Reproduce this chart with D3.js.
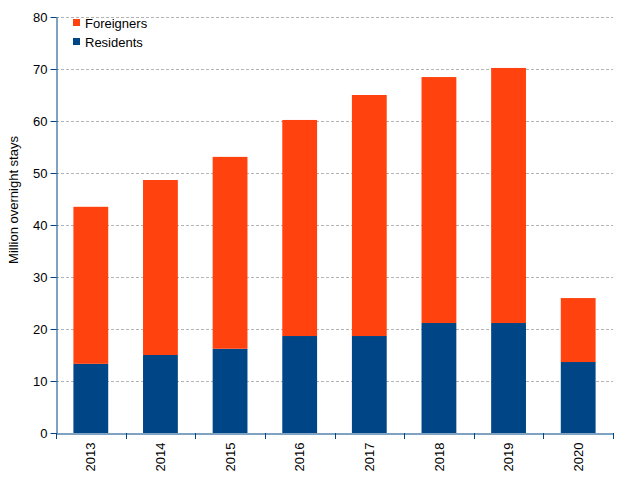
<!DOCTYPE html>
<html><head><meta charset="utf-8">
<script src="https://cdn.jsdelivr.net/npm/d3@7"></script>
<style>body{margin:0;background:#fff}svg{display:block;font-family:"Liberation Sans",Arial,sans-serif}</style>
</head><body><svg id="c" width="625" height="480"></svg>
<script>
const years = ["2013","2014","2015","2016","2017","2018","2019","2020"];
const residents = [13.3, 15.0, 16.2, 18.65, 18.65, 21.15, 21.15, 13.65];
const foreigners = [30.2, 33.65, 36.9, 41.55, 46.35, 47.3, 49.05, 12.3];
const yTicks = [0,10,20,30,40,50,60,70,80];
const seriesNames = ["Residents","Foreigners"];
const colors = {Residents:"#004586", Foreigners:"#ff420e"};

const svg = d3.select("#c");
const x = d3.scaleBand().domain(years).range([56,613]).paddingInner(0.5).paddingOuter(0.25);
const y = d3.scaleLinear().domain([0,80]).range([433,17]);

// grid
svg.append("g").selectAll("line").data(yTicks.filter(d=>d>0)).join("line")
  .attr("x1",56).attr("x2",613).attr("y1",d=>y(d)+0.5).attr("y2",d=>y(d)+0.5)
  .attr("stroke","#b3b3b3").attr("stroke-width",1).attr("stroke-dasharray","3,2");

const rows = years.map((yr,i)=>({year:yr, Residents:residents[i], Foreigners:foreigners[i]}));
const stack = d3.stack().keys(seriesNames)(rows);
svg.append("g").selectAll("g").data(stack).join("g").attr("fill",d=>colors[d.key])
  .selectAll("rect").data(d=>d).join("rect")
  .attr("x",d=>x(d.data.year)).attr("width",x.bandwidth())
  .attr("y",d=>y(d[1])).attr("height",d=>y(d[0])-y(d[1]));

// y axis
const ya = svg.append("g").attr("transform","translate(56.5,0)")
  .call(d3.axisLeft(y).tickValues(yTicks).tickSize(6).tickSizeOuter(0));
ya.select(".domain").attr("stroke","#004586");
ya.selectAll(".tick line").attr("stroke","#004586");
ya.selectAll(".tick text").attr("font-size",13).attr("fill","#000").attr("font-family","Liberation Sans, Arial, sans-serif").attr("x",-9);

// x axis
const xa = svg.append("g").attr("transform","translate(0,433.5)")
  .call(d3.axisBottom(x).tickSize(0).tickSizeOuter(0));
xa.select(".domain").attr("stroke","#004586");
xa.selectAll(".tick text").attr("font-size",13).attr("fill","#000").attr("font-family","Liberation Sans, Arial, sans-serif")
  .attr("transform","rotate(-90)").attr("text-anchor","end").attr("x",-9).attr("y",0).attr("dy","0.35em");
// boundary ticks between bands
const step = x.step();
const bounds = d3.range(years.length+1).map(i=>56+i*(557/years.length));
svg.append("g").selectAll("line").data(bounds).join("line")
  .attr("x1",d=>Math.round(d)+0.5).attr("x2",d=>Math.round(d)+0.5).attr("y1",433).attr("y2",439)
  .attr("stroke","#004586");

// y label
svg.append("text").attr("transform","translate(18,200) rotate(-90)").attr("text-anchor","middle")
  .attr("font-size",13).text("Million overnight stays");

// legend
const leg = svg.append("g");
["Foreigners","Residents"].forEach((k,i)=>{
  leg.append("rect").attr("x",73).attr("y",19+i*19).attr("width",7).attr("height",7).attr("fill",colors[k]);
  leg.append("text").attr("x",85).attr("y",27.5+i*19).attr("font-size",13).text(k);
});
</script></body></html>
